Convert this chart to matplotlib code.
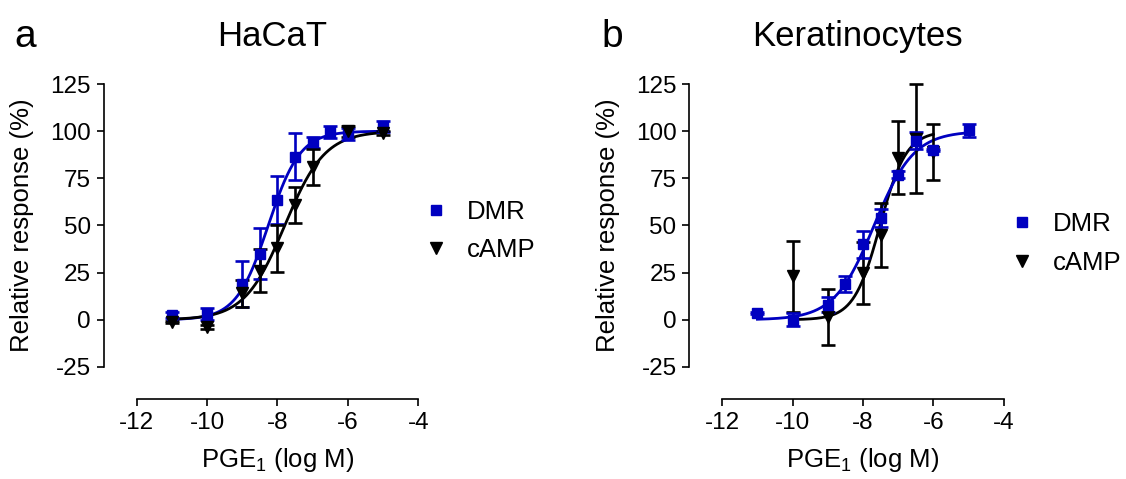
import numpy as np
import matplotlib
matplotlib.use("Agg")
from matplotlib import pyplot as plt

plt.rcParams['font.family'] = ['Liberation Sans', 'DejaVu Sans']
plt.rcParams['mathtext.fontset'] = 'custom'
plt.rcParams['mathtext.rm'] = 'Liberation Sans'
plt.rcParams['mathtext.it'] = 'Liberation Sans:italic'
plt.rcParams['axes.unicode_minus'] = False

BLUE = '#0000C0'
BLACK = '#000000'

# HaCaT: log[PGE1] (M), mean response (%), SEM
hacat_dmr_x = [-11, -10, -9, -8.5, -8, -7.5, -7, -6.5, -6, -5]
hacat_dmr_y = [2.5, 3, 19, 35, 63.5, 86.5, 94, 99.5, 98.5, 102.5]
hacat_dmr_err = [1.5, 3, 12, 13.5, 12.5, 12.5, 3, 3, 3, 3]

hacat_camp_x = [-11, -10, -9, -8.5, -8, -7.5, -7, -6, -5]
hacat_camp_y = [-1, -4, 14, 26, 38, 61, 81, 100, 99]
hacat_camp_err = [0.5, 1, 7, 11.5, 12.5, 9.5, 9.5, 3, 1]

# Keratinocytes
kera_dmr_x = [-11, -10, -9, -8.5, -8, -7.5, -7, -6.5, -6, -5]
kera_dmr_y = [3.7, 0, 8, 19, 40, 54, 77, 95, 90, 100.5]
kera_dmr_err = [0.5, 3.5, 4, 4.3, 7.3, 5, 2, 4.5, 0.5, 3.5]

kera_camp_x = [-10, -9, -8, -7.5, -7, -6.5, -6]
kera_camp_y = [23, 1.5, 25, 45, 86, 96, 89]
kera_camp_err = [19, 15, 16.5, 17, 19.5, 29, 15]


def fit_curve(x, y):
    # sigmoidal dose-response, bottom=0, top=100, fitted logEC50 and hill slope
    x = np.asarray(x, float)
    y = np.asarray(y, float)
    ec = np.arange(-10, -5, 0.002)
    hs = np.arange(0.3, 3.0, 0.01)
    E, H = np.meshgrid(ec, hs, indexing='ij')
    pred = 100.0 / (1 + 10 ** ((E[..., None] - x) * H[..., None]))
    sse = ((pred - y) ** 2).sum(axis=-1)
    i, j = np.unravel_index(np.argmin(sse), sse.shape)
    return ec[i], hs[j]


def draw_series(ax, x, y, err, color, marker, ms, label):
    ec50, hill = fit_curve(x, y)
    xx = np.linspace(min(x), max(x), 300)
    ax.plot(xx, 100.0 / (1 + 10 ** ((ec50 - xx) * hill)), color=color, lw=2.0,
            clip_on=False, zorder=2)
    eb = ax.errorbar(x, y, yerr=err, fmt=marker, color=color, ms=ms, elinewidth=1.9,
                     capsize=4.8, capthick=1.9, clip_on=False, zorder=3)
    # legend shows the bare marker only
    eb.lines[0].set_label(label)
    return eb.lines[0]


fig = plt.figure(figsize=(11.26, 4.79), dpi=100)
ax_a = fig.add_axes([0.092, 0.167, 0.2801, 0.6576])
ax_b = fig.add_axes([0.612, 0.167, 0.2801, 0.6576])

ha_dmr = draw_series(ax_a, hacat_dmr_x, hacat_dmr_y, hacat_dmr_err, BLUE, 's', 7, 'DMR')
ha_camp = draw_series(ax_a, hacat_camp_x, hacat_camp_y, hacat_camp_err, BLACK, 'v', 8, 'cAMP')

ke_camp = draw_series(ax_b, kera_camp_x, kera_camp_y, kera_camp_err, BLACK, 'v', 8, 'cAMP')
ke_dmr = draw_series(ax_b, kera_dmr_x, kera_dmr_y, kera_dmr_err, BLUE, 's', 7, 'DMR')

panels = [
    (ax_a, 'HaCaT', [ha_dmr, ha_camp], (0.3757, 0.5177)),
    (ax_b, 'Keratinocytes', [ke_dmr, ke_camp], (0.896, 0.4916)),
]

for ax, title, handles, leg_pos in panels:
    ax.set_xlim(-12.94, -3.98)
    ax.set_ylim(-42, 125)
    ax.spines['top'].set_visible(False)
    ax.spines['right'].set_visible(False)
    ax.spines['left'].set_bounds(-25, 125)
    ax.spines['bottom'].set_bounds(-12, -4)
    for s in ('left', 'bottom'):
        ax.spines[s].set_linewidth(1.2)
    ax.set_xticks([-12, -10, -8, -6, -4])
    ax.set_yticks([-25, 0, 25, 50, 75, 100, 125])
    ax.tick_params(direction='out', length=5, width=1.2, labelsize=17.5, pad=4)
    ax.set_xlabel('PGE$_1$ (log M)', fontsize=18.5)
    ax.set_ylabel('Relative response (%)', fontsize=18.5)
    ax.yaxis.set_label_coords(-0.22, 0.551)
    ax.xaxis.set_label_coords((277.5 - 103.6) / 315.4, -0.148)
    ax.set_title(title, fontsize=25, pad=0, x=(272 - 103.6) / 315.4, y=1.12)

    ax.legend(handles, [h.get_label() for h in handles], loc='center left',
              bbox_to_anchor=leg_pos, bbox_transform=fig.transFigure,
              frameon=False, fontsize=18.5, handlelength=1.0, handletextpad=0.7,
              borderpad=0, borderaxespad=0, labelspacing=0.55, numpoints=1)

fig.text(14 / 1126, 1 - 47 / 479, 'a', fontsize=28, ha='left', va='baseline')
fig.text(601 / 1126, 1 - 47 / 479, 'b', fontsize=28, ha='left', va='baseline')

fig.savefig('out.png', dpi=100)
